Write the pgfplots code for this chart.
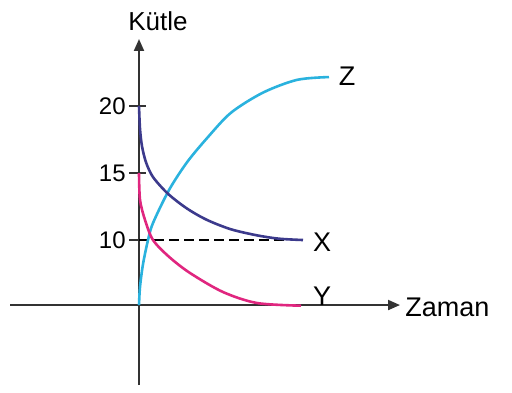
\documentclass[border=0pt]{standalone}
\usepackage{pgfplots}
\pgfplotsset{compat=1.18}
\usepackage{fontspec}
\setmainfont{Liberation Sans}
\usetikzlibrary{arrows.meta}

\definecolor{curveX}{HTML}{3C3A8C}
\definecolor{curveY}{HTML}{E0267F}
\definecolor{curveZ}{HTML}{2AB2DE}
\definecolor{axcol}{HTML}{333333}

\begin{document}
\begin{tikzpicture}
\begin{axis}[
  width=256pt, height=196pt, scale only axis,
  xmin=-6.95, xmax=18.65, ymin=-1.34, ymax=27.91,
  hide axis, clip=false,
  every axis plot/.append style={line width=1.3pt, smooth, tension=0.5},
]
% keep the full picture frame
\path (rel axis cs:0,0) rectangle (rel axis cs:1,1);

% axes (the time axis sits below the 10 mark; schematic)
\draw[axcol, line width=1pt, -{Triangle[length=6pt,width=5pt]}]
  (axis cs:-6.45,5.15) -- (axis cs:13.05,5.15);
\draw[axcol, line width=1pt, -{Triangle[length=6pt,width=5pt]}]
  (axis cs:0,-0.82) -- (axis cs:0,25.0);
\pgfplotsinvokeforeach{10,15,20}{
  \draw[axcol, line width=0.9pt] (axis cs:-0.5,#1) -- (axis cs:0.35,#1);
  \node[anchor=east, font=\fontsize{12}{14}\selectfont, inner sep=1pt] at (axis cs:-0.55,#1) {#1};
}
\node[font=\fontsize{13}{15}\selectfont] at (axis cs:0.95,26.3) {Kütle};
\node[anchor=west, font=\fontsize{13.5}{15}\selectfont, inner sep=0pt] at (axis cs:13.3,5.0) {Zaman};

% dashed level
\addplot[black, line width=1pt, sharp plot, dash pattern=on 5pt off 2.5pt]
  coordinates {(0,10) (7.5,10)};

% Z
\addplot[curveZ] coordinates {
  (0,5.15) (0.05,6.5) (0.2,8.2) (0.45,10) (0.7,11.27) (1.5,13.73)
  (2.4,15.8) (3.4,17.6) (4.6,19.5) (6.2,21.0) (7.9,21.95) (9.5,22.16)};
% X
\addplot[curveX] coordinates {
  (0,20) (0.05,18.3) (0.15,17.0) (0.35,15.8) (0.7,14.7) (1.45,13.45)
  (2.4,12.35) (3.4,11.5) (4.6,10.8) (5.9,10.35) (7,10.1) (8.2,10)};
% Y
\addplot[curveY] coordinates {
  (0,15) (0.05,13) (0.3,11.5) (0.7,10) (1.5,8.75) (2.55,7.54) (4.2,6.12)
  (5.9,5.3) (8.1,5.1)};

\node[font=\fontsize{13.5}{15}\selectfont] at (axis cs:10.4,22.2) {Z};
\node[font=\fontsize{13.5}{15}\selectfont] at (axis cs:9.15,9.85) {X};
\node[font=\fontsize{13.5}{15}\selectfont] at (axis cs:9.15,5.8) {Y};
\end{axis}
\end{tikzpicture}
\end{document}
